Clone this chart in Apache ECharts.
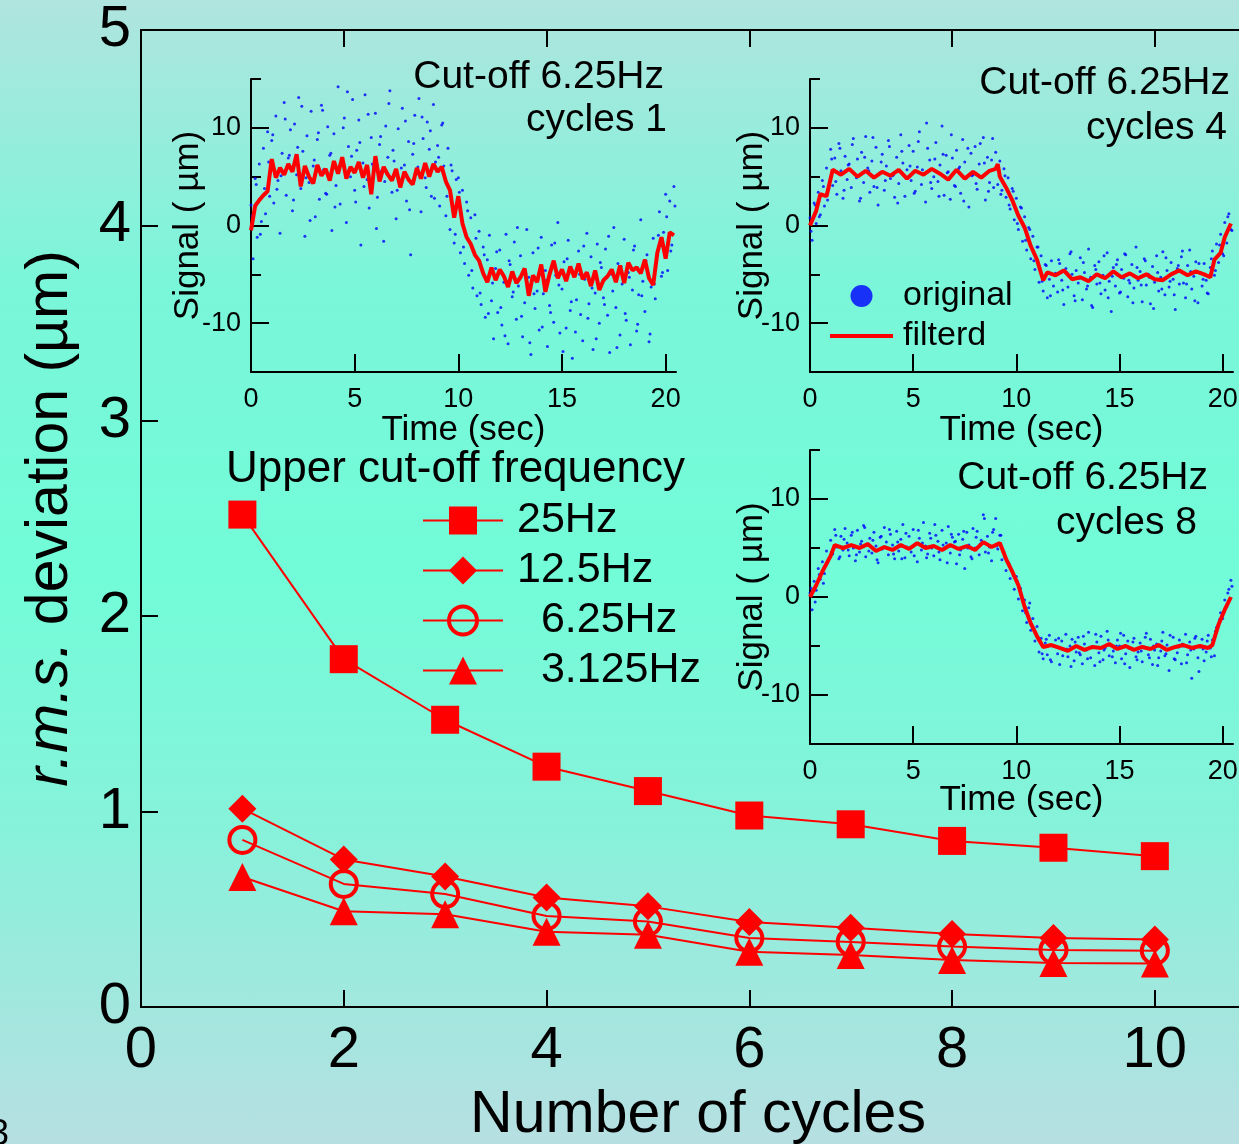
<!DOCTYPE html>
<html>
<head>
<meta charset="utf-8">
<title>r.m.s. deviation vs number of cycles</title>
<script src="https://cdn.jsdelivr.net/npm/echarts@6/dist/echarts.min.js"></script>
<style>
  html, body { margin: 0; padding: 0; }
  #chart {
    width: 1239px; height: 1144px;
    background: linear-gradient(to bottom, #b0e4df 0%, #7af6d9 25%, #72fcd8 50%, #86f2da 72%, #b7dfe2 100%);
  }
</style>
</head>
<body>
<div id="chart"></div>
<script>
// main plot data
const cycles = [1, 2, 3, 4, 5, 6, 7, 8, 9, 10]
const rms25 = [2.52, 1.78, 1.47, 1.23, 1.105, 0.98, 0.935, 0.85, 0.815, 0.772]
const rms12 = [1.015, 0.755, 0.668, 0.56, 0.515, 0.435, 0.405, 0.373, 0.353, 0.345]
const rms6 = [0.855, 0.63, 0.578, 0.466, 0.437, 0.353, 0.333, 0.309, 0.292, 0.288]
const rms3 = [0.665, 0.49, 0.475, 0.385, 0.37, 0.283, 0.266, 0.24, 0.225, 0.222]
const cycleTicks = [0, 2, 4, 6, 8, 10]

// insets: raw signal read at two sample grids, filtered signal
const dotStep = 0.1          // dotsN  : t = i * 0.1
const dotStepB = 0.2         // dotsNb : t = 0.05 + i * 0.2
const dotOffsetB = 0.05
const lineStep1 = 0.2
const timeTicks = [0, 5, 10, 15, 20]
const signalLabels = [-10, 0, 10]
const signalMinor = [-15, -5, 5, 15]

const dots1 = [
  2.1, -3.4, 4.8, -1.2, 6.3, 0.4, 7.9, 1.2, 9.6, 3.0,
  8.7, 2.3, 11.2, 4.6, -0.8, 7.4, 12.6, 3.1, 6.9, 9.8,
  1.5, 10.4, 5.2, 13.1, 3.8, 7.6, -1.1, 9.2, 4.4, 11.7,
  6.1, 0.9, 8.8, 2.7, 12.3, 5.7, 3.3, 10.1, 7.2, -0.5,
  9.4, 4.1, 14.2, 2.2, 6.8, 11.0, 0.3, 8.1, 5.0, 12.9,
  3.6, 7.7, 10.8, -2.0, 6.4, 13.4, 4.7, 1.8, 9.0, 6.0,
  11.5, 2.9, 8.3, 5.6, -1.6, 10.2, 7.0, 13.8, 3.4, 6.6,
  0.7, 9.9, 4.3, 12.0, 6.2, 2.5, 8.6, -3.0, 7.3, 11.3,
  5.3, 13.0, 1.4, 8.9, 4.9, 10.6, 7.8, 3.0, 12.4, 6.5,
  8.2, 2.0, 10.3, 6.1, 1.0, 7.9, -0.4, 5.6, -1.8, 4.7,
  4.9, -2.8, 3.6, -3.9, 2.4, -5.1, 0.8, -6.4, 1.1, -7.2,
  -0.6, -8.1, -2.2, -9.4, -3.5, -1.0, -7.7, -11.6, -4.4, -8.9,
  -2.5, -10.2, -5.8, -0.9, -12.1, -4.0, -7.3, -1.7, -9.6, -6.2,
  -3.1, -11.4, -7.9, -0.4, -5.3, -13.2, -2.8, -8.5, -6.7, -10.7,
  -1.2, -7.0, -4.6, -12.4, -8.2, -2.0, -9.9, -5.1, 0.3, -11.0,
  -6.5, -3.7, -10.5, -1.5, -8.7, -13.6, -4.9, -7.6, -2.6, -9.1,
  -11.8, -5.5, -0.8, -8.0, -3.2, -12.7, -6.9, -1.9, -10.0, -4.3,
  -7.4, -2.4, -9.2, -13.0, -5.0, -0.2, -8.4, -3.9, -11.2, -6.0,
  -1.4, -9.7, -4.8, -12.2, -6.6, -2.1, -10.8, -7.1, 0.6, -5.7,
  -8.8, -3.0, -11.9, -6.3, -1.3, -7.5, -2.9, 1.4, -5.2, -0.7,
  3.2, -4.6, 2.5, -2.0, 4.0
]
const dots1b = [
  1.0, 4.2, -0.9, 3.8, 6.5, 9.3, 3.7, 5.1, 10.9, 7.2,
  2.6, 8.0, 12.2, 4.9, 0.5, 6.7, 9.5, 11.8, 3.2, 7.4,
  1.9, 5.8, 10.0, 13.7, 7.1, 2.4, 8.5, 4.0, 11.4, 6.3,
  -0.3, 9.1, 4.5, 12.5, 7.7, 3.6, 5.9, 10.7, 1.6, 8.4,
  6.0, 11.1, 3.9, 9.7, 2.8, 7.0, 10.5, 3.0, 6.2, -0.9,
  3.4, -2.2, 1.5, -4.6, -1.3, -6.9, -3.0, -9.0, -5.9, -2.7,
  -8.4, -11.3, -3.6, -6.8, -0.2, -9.3, -4.9, -12.0, -7.0, -2.3,
  -10.4, -5.6, -8.9, -1.8, -6.1, -12.9, -3.4, -7.8, -10.9, -5.0,
  -2.1, -9.5, -6.4, -11.6, -3.8, -8.1, -1.1, -6.7, -12.5, -4.2,
  -9.0, -5.3, -2.5, -10.1, -7.2, -3.6, -11.1, -6.0, -1.0, -4.8,
  0.9, -2.6, 2.0
]
const filtered1 = [
  -0.5, 2.0, 2.6, 3.1, 3.5, 6.8, 4.9, 5.9, 5.2, 6.3,
  5.5, 7.3, 4.0, 6.1, 5.0, 4.3, 6.2, 5.1, 5.8, 4.6,
  6.6, 5.3, 7.0, 4.8, 6.0, 5.4, 6.5, 4.9, 6.2, 3.2,
  7.1, 4.5, 6.0, 5.2, 4.6, 5.8, 3.9, 5.5, 4.7, 4.2,
  5.9, 4.8, 6.4, 5.0, 6.3, 5.5, 6.0, 4.5, 3.6, 0.8,
  3.0, 0.2, -1.2, -1.9, -3.0, -3.6, -4.9, -5.8, -4.3, -5.6,
  -4.5, -5.2, -6.3, -4.7, -5.9, -5.3, -4.4, -7.2, -5.1, -5.8,
  -4.0, -6.8, -5.0, -3.6, -5.4, -4.5, -5.7, -4.2, -5.3, -3.9,
  -5.5, -4.8, -6.2, -4.6, -6.6, -5.6, -5.2, -4.5, -5.8, -4.1,
  -5.9, -3.8, -4.6, -4.3, -4.9, -3.5, -5.4, -6.1, -2.8, -1.2,
  -3.4, -0.7, -1.0
]

const dots4 = [
  0.8, -1.5, 2.3, 0.2, 3.4, 1.1, 4.6, 2.0, 5.9, 3.7,
  7.8, 4.1, 6.9, 3.2, 8.4, 5.6, 2.8, 7.1, 4.7, 6.3,
  3.9, 8.9, 5.2, 6.8, 2.5, 7.5, 4.4, 9.1, 5.9, 3.4,
  6.6, 4.0, 8.0, 2.1, 5.4, 7.3, 3.6, 6.1, 8.7, 4.8,
  5.1, 2.9, 7.0, 4.3, 9.3, 6.4, 3.0, 5.7, 8.2, 4.6,
  7.6, 3.5, 6.0, 9.6, 4.2, 5.3, 2.4, 7.9, 6.7, 3.8,
  5.0, 8.5, 4.5, 6.2, 10.2, 3.1, 7.2, 5.5, 2.7, 6.9,
  4.1, 7.7, 5.8, 3.3, 8.8, 6.5, 4.9, 1.9, 7.4, 5.2,
  8.1, 3.7, 6.3, 5.0, 9.0, 2.6, 7.0, 4.4, 6.7, 3.9,
  7.5, 4.2, 6.6, 3.6, 5.8, 2.9, 4.9, 1.7, 3.8, 0.6,
  2.8, -0.4, 1.9, -1.6, 0.9, -2.5, -0.2, -3.4, -1.1, -4.5,
  -2.2, -5.8, -3.1, -6.7, -4.0, -7.4, -5.5, -3.6, -6.2, -4.9,
  -6.8, -3.9, -5.6, -8.1, -4.4, -6.3, -2.9, -5.0, -7.2, -4.6,
  -5.9, -3.3, -7.6, -4.8, -6.5, -2.4, -5.3, -8.4, -4.1, -6.0,
  -3.7, -7.0, -5.1, -6.6, -2.8, -5.7, -8.8, -4.3, -6.2, -3.5,
  -6.9, -4.5, -5.4, -3.0, -7.3, -5.9, -4.0, -6.4, -2.2, -5.6,
  -4.7, -7.8, -3.4, -6.1, -5.0, -8.0, -4.2, -5.8, -3.1, -6.7,
  -5.3, -2.7, -7.1, -4.6, -6.3, -3.8, -5.5, -8.6, -4.4, -6.0,
  -3.2, -5.9, -7.4, -4.1, -2.5, -6.5, -5.2, -3.7, -7.9, -4.8,
  -6.2, -3.9, -5.6, -7.0, -4.3, -2.6, -5.1, -1.9, -3.8, -0.9,
  -2.9, 0.3, -1.8, 1.2, -0.4
]
const dots4b = [
  -0.6, 2.1, 0.9, 4.0, 2.6, 6.8, 4.5, 7.9, 3.6, 6.2,
  8.3, 4.9, 2.8, 7.0, 5.6, 9.0, 3.9, 6.5, 4.6, 8.1,
  5.2, 2.3, 7.6, 4.9, 6.1, 3.3, 8.6, 5.7, 10.5, 4.4,
  6.8, 3.0, 7.3, 5.4, 9.3, 4.0, 6.0, 2.5, 7.9, 5.1,
  4.3, 8.4, 6.4, 3.5, 8.9, 5.9, 3.2, 5.1, 2.1, 3.5,
  0.2, 1.8, -1.5, -0.4, -3.6, -2.2, -5.7, -4.1, -7.2, -5.0,
  -3.5, -6.6, -4.8, -2.7, -7.7, -5.4, -3.8, -6.2, -8.2, -4.5,
  -5.9, -3.1, -7.4, -5.2, -4.0, -6.8, -2.9, -5.6, -7.9, -4.3,
  -6.1, -3.6, -5.3, -8.5, -4.8, -6.5, -3.3, -5.7, -7.1, -4.1,
  -2.6, -6.0, -4.7, -7.7, -3.9, -5.5, -6.9, -3.4, -4.6, -2.0,
  -3.1, 0.9, -0.5
]
const filtered4 = [
  [0, 0], [0.3, 1.5], [0.5, 3.2], [0.8, 3.0], [1.1, 5.7], [1.5, 5.2], [1.9, 5.8], [2.3, 5.0],
  [2.7, 5.6], [3.1, 4.9], [3.5, 5.5], [3.9, 5.1], [4.3, 5.7], [4.7, 4.8], [5.1, 5.6], [5.5, 5.2],
  [5.9, 5.8], [6.3, 5.3], [6.7, 4.7], [7.1, 5.7], [7.5, 4.8], [7.9, 5.5], [8.3, 4.9], [8.7, 5.6],
  [9.0, 5.8], [9.1, 6.3], [9.2, 5.0], [9.5, 3.9], [9.8, 2.6], [10.1, 1.0], [10.4, -0.2], [10.7, -2.1],
  [11.0, -3.5], [11.3, -5.6], [11.5, -4.8], [11.9, -5.1], [12.3, -4.6], [12.7, -5.5], [13.1, -5.3],
  [13.5, -5.7], [13.9, -5.0], [14.3, -5.4], [14.7, -4.7], [15.1, -5.3], [15.5, -4.9], [15.9, -5.4],
  [16.3, -5.0], [16.7, -5.5], [17.1, -5.6], [17.5, -5.0], [17.9, -4.6], [18.3, -5.1], [18.7, -4.7],
  [19.1, -5.0], [19.4, -5.3], [19.6, -3.5], [19.9, -2.8], [20.1, -1.2], [20.4, 0.2]
]

const dots8 = [
  0.4, -1.3, 1.6, 0.7, 2.9, 1.8, 3.6, 2.4, 4.7, 3.9,
  5.8, 4.4, 6.9, 5.1, 3.9, 6.2, 4.8, 7.0, 5.5, 4.2,
  6.3, 5.0, 3.7, 6.8, 4.6, 5.7, 7.3, 4.1, 5.4, 6.0,
  4.5, 6.6, 5.2, 3.5, 6.1, 4.9, 7.1, 5.6, 4.3, 6.4,
  5.3, 3.9, 6.7, 4.7, 5.9, 7.4, 4.0, 5.1, 6.2, 4.6,
  6.9, 5.4, 3.6, 6.0, 4.8, 7.6, 5.2, 4.4, 6.5, 5.0,
  4.2, 6.3, 5.7, 3.8, 6.8, 4.9, 5.5, 7.2, 4.5, 6.1,
  5.6, 3.4, 6.4, 4.8, 5.9, 2.9, 6.6, 5.3, 4.1, 7.0,
  5.0, 6.7, 4.3, 5.8, 8.4, 4.6, 6.2, 5.1, 3.7, 6.9,
  8.0, 4.9, 6.3, 3.8, 4.6, 2.7, 3.5, 1.9, 2.6, 0.8,
  2.1, -0.2, 0.9, -1.4, -0.3, -2.6, -1.1, -3.4, -2.2, -4.5,
  -3.0, -5.6, -4.2, -6.3, -4.7, -5.9, -3.9, -6.6, -5.0, -4.4,
  -5.8, -6.9, -4.5, -5.3, -3.8, -6.1, -5.0, -4.3, -6.5, -5.6,
  -4.1, -5.9, -6.8, -4.8, -5.4, -3.6, -6.2, -5.1, -7.0, -4.6,
  -5.7, -4.0, -6.4, -5.2, -3.5, -6.0, -4.9, -5.5, -6.7, -4.4,
  -5.0, -6.3, -3.9, -5.8, -4.5, -7.2, -5.3, -4.2, -6.1, -5.6,
  -4.7, -6.6, -5.1, -3.7, -5.9, -4.3, -6.9, -5.4, -4.8, -6.2,
  -5.5, -3.6, -6.0, -4.9, -7.5, -5.2, -4.1, -6.4, -5.7, -4.4,
  -6.8, -5.0, -3.8, -5.9, -4.6, -8.3, -5.3, -4.0, -6.2, -5.1,
  -4.3, -6.5, -5.6, -3.9, -5.2, -4.4, -6.0, -3.1, -2.9, -1.6,
  -2.2, -0.3, -1.0, 0.8, 1.7
]
const dots8b = [
  0.9, -0.5, 2.3, 1.4, 3.5, 4.6, 6.3, 4.1, 5.9, 4.8,
  6.6, 4.3, 5.4, 7.1, 4.7, 5.8, 3.8, 6.2, 5.1, 6.9,
  4.4, 5.6, 3.9, 6.5, 5.0, 4.2, 6.8, 5.5, 4.0, 6.0,
  7.4, 4.6, 5.3, 3.5, 6.4, 5.7, 4.3, 6.7, 5.0, 3.9,
  6.1, 5.4, 8.0, 4.5, 6.6, 5.2, 6.3, 4.0, 3.4, 2.2,
  1.6, 0.1, -1.6, -0.6, -3.2, -4.1, -5.8, -4.3, -6.4, -5.0,
  -4.2, -6.0, -5.3, -7.1, -4.6, -5.7, -4.0, -6.3, -5.1, -3.8,
  -6.6, -5.4, -4.4, -6.1, -5.0, -3.7, -6.8, -5.2, -4.6, -6.4,
  -5.5, -4.1, -6.2, -5.0, -7.0, -4.5, -5.8, -3.9, -6.3, -5.1,
  -4.8, -6.7, -5.4, -4.2, -7.6, -5.3, -4.5, -6.1, -3.5, -2.3,
  -1.5, 0.4, 1.1
]
const filtered8 = [
  [0, 0], [0.3, 1.2], [0.6, 2.6], [1.0, 4.2], [1.2, 5.3], [1.6, 5.0], [2.0, 5.3], [2.4, 5.0],
  [2.8, 5.4], [3.2, 4.7], [3.6, 5.1], [4.0, 4.8], [4.4, 5.3], [4.8, 4.9], [5.2, 5.5], [5.6, 5.0],
  [6.0, 5.2], [6.4, 4.8], [6.8, 5.3], [7.2, 4.9], [7.6, 5.2], [8.0, 4.8], [8.4, 5.6], [8.8, 5.1],
  [9.2, 5.5], [9.5, 3.9], [9.8, 2.6], [10.1, 1.2], [10.4, -1.0], [10.7, -2.7], [11.0, -4.0],
  [11.3, -5.1], [11.7, -4.9], [12.1, -5.2], [12.5, -5.5], [12.9, -5.0], [13.3, -5.4], [13.7, -5.1],
  [14.1, -5.2], [14.5, -4.8], [14.9, -5.3], [15.3, -5.0], [15.7, -5.4], [16.1, -5.1], [16.5, -5.3],
  [16.9, -4.9], [17.3, -5.4], [17.7, -5.1], [18.1, -4.9], [18.5, -5.2], [18.9, -5.0], [19.3, -5.2],
  [19.5, -4.9], [19.8, -2.8], [20.1, -1.3], [20.4, 0]
]

const FONT = '"Liberation Sans", Arial, Helvetica, sans-serif'
const RED = '#ff0000'
const BLUE = '#0000ff'

const chart = echarts.init(document.getElementById('chart'), null, { renderer: 'canvas' })

// x axis of one inset (time)
function insetX(grid, gap) {
  return {
    type: 'value', gridIndex: grid, min: 0, max: 20.5,
    name: 'Time (sec)', nameLocation: 'middle', nameGap: gap, nameMoveOverlap: false,
    nameTextStyle: { fontSize: 35, color: '#000', fontFamily: FONT },
    axisLine: { onZero: false, lineStyle: { color: '#000', width: 2 } },
    axisTick: { inside: true, length: 18, customValues: timeTicks, lineStyle: { color: '#000', width: 2 } },
    axisLabel: { customValues: timeTicks, fontSize: 27, margin: 14, color: '#000', fontFamily: FONT },
    splitLine: { show: false }
  }
}
// two y axes per inset: labelled long ticks + short ticks in between
function insetY(grid, gap) {
  return [{
    type: 'value', gridIndex: grid, min: -15, max: 15, position: 'left',
    name: 'Signal ( µm)', nameLocation: 'middle', nameGap: gap, nameRotate: 90, nameMoveOverlap: false,
    nameTextStyle: { fontSize: 35, color: '#000', fontFamily: FONT },
    axisLine: { onZero: false, lineStyle: { color: '#000', width: 2 } },
    axisTick: { inside: true, length: 18, customValues: signalLabels, lineStyle: { color: '#000', width: 2 } },
    axisLabel: { customValues: signalLabels, fontSize: 27, margin: 10, color: '#000', fontFamily: FONT },
    splitLine: { show: false }
  }, {
    type: 'value', gridIndex: grid, min: -15, max: 15, position: 'left',
    axisLine: { show: false, onZero: false },
    axisTick: { inside: true, length: 10, customValues: signalMinor, lineStyle: { color: '#000', width: 2 } },
    axisLabel: { show: false },
    splitLine: { show: false }
  }]
}
function insetSeries(xIdx, yIdx, dots, dotsB, line) {
  const raw = dots.map((v, i) => [+(i * dotStep).toFixed(2), v])
    .concat(dotsB.map((v, i) => [+(dotOffsetB + i * dotStepB).toFixed(2), v]))
  return [{
    name: 'original', type: 'scatter', xAxisIndex: xIdx, yAxisIndex: yIdx,
    symbol: 'circle', symbolSize: 3, itemStyle: { color: BLUE },
    data: raw, z: 2
  }, {
    name: 'filterd', type: 'line', xAxisIndex: xIdx, yAxisIndex: yIdx,
    symbol: 'none', showSymbol: false, lineStyle: { color: RED, width: 4 }, itemStyle: { color: RED },
    data: line, z: 3
  }]
}
function mainSeries(name, values, symbol, extra) {
  return Object.assign({
    name: name, type: 'line', xAxisIndex: 0, yAxisIndex: 0,
    symbol: symbol, symbolSize: 28,
    lineStyle: { color: RED, width: 2 },
    itemStyle: { color: RED },
    data: cycles.map((c, i) => [c, values[i]]), z: 5
  }, extra || {})
}
function note(text, x, y) {
  return { type: 'text', x: x, y: y, style: { text: text, align: 'right', verticalAlign: 'middle', font: '39px ' + FONT, fill: '#000' } }
}

const line1 = filtered1.map((v, i) => [+(i * lineStep1).toFixed(2), v])

const option = {
  backgroundColor: 'transparent',
  animation: false,
  textStyle: { fontFamily: FONT },
  grid: [
    { left: 141, top: 30, right: 0, bottom: 137, outerBoundsMode: 'none' },
    { left: 251, top: 79, width: 425, height: 293, outerBoundsMode: 'none' },
    { left: 810, top: 79, width: 423, height: 293, outerBoundsMode: 'none' },
    { left: 810, top: 450, width: 423, height: 294, outerBoundsMode: 'none' }
  ],
  xAxis: [
    {
      type: 'value', gridIndex: 0, min: 0, max: 10.83, position: 'bottom',
      name: 'Number of cycles', nameLocation: 'middle', nameGap: 79,
      nameTextStyle: { fontSize: 59, color: '#000', fontFamily: FONT, padding: [0, 0, 0, 16] },
      axisLine: { onZero: false, lineStyle: { color: '#000', width: 2 } },
      axisTick: { inside: true, length: 17, customValues: cycleTicks, lineStyle: { color: '#000', width: 2 } },
      axisLabel: { customValues: cycleTicks, fontSize: 58, margin: 15, color: '#000', fontFamily: FONT },
      splitLine: { show: false }
    },
    {
      type: 'value', gridIndex: 0, min: 0, max: 10.83, position: 'top',
      axisLine: { onZero: false, lineStyle: { color: '#000', width: 2 } },
      axisTick: { inside: true, length: 17, customValues: cycleTicks, lineStyle: { color: '#000', width: 2 } },
      axisLabel: { show: false },
      splitLine: { show: false }
    },
    insetX(1, 41),
    insetX(2, 41),
    insetX(3, 39)
  ],
  yAxis: [
    {
      type: 'value', gridIndex: 0, min: 0, max: 5, interval: 1, position: 'left',
      name: '{i|r.m.s.} deviation (µm)', nameLocation: 'middle', nameGap: 61, nameRotate: 90,
      nameTextStyle: {
        fontSize: 59, color: '#000', fontFamily: FONT,
        rich: { i: { fontStyle: 'italic', fontSize: 59, color: '#000', fontFamily: FONT } }
      },
      axisLine: { onZero: false, lineStyle: { color: '#000', width: 2 } },
      axisTick: { inside: true, length: 17, lineStyle: { color: '#000', width: 2 } },
      axisLabel: { fontSize: 58, margin: 10, color: '#000', fontFamily: FONT },
      splitLine: { show: false }
    }
  ].concat(insetY(1, 45), insetY(2, 40), insetY(3, 40)),
  legend: [
    {
      left: 417, top: 494, orient: 'vertical', selectedMode: false,
      itemWidth: 80, itemHeight: 35, itemGap: 7,
      data: [
        { name: '25Hz' },
        { name: '12.5Hz' },
        { name: '6.25Hz', itemStyle: { color: 'rgba(0,0,0,0)', borderColor: RED, borderWidth: 4 } },
        { name: '3.125Hz' }
      ],
      formatter: n => (n === '6.25Hz' || n === '3.125Hz') ? '  ' + n : n,
      lineStyle: { width: 2 },
      textStyle: { fontSize: 43, color: '#000', fontFamily: FONT, padding: [0, 0, 0, 9] }
    },
    {
      left: 823, top: 274, orient: 'vertical', selectedMode: false,
      itemWidth: 63, itemHeight: 22, itemGap: 6,
      data: [{ name: 'original', icon: 'circle' }, { name: 'filterd', itemStyle: { opacity: 0 } }],
      lineStyle: { width: 4 },
      textStyle: { fontSize: 34, color: '#000', fontFamily: FONT, padding: [0, 0, 0, 5] }
    }
  ],
  title: {
    text: 'Upper cut-off frequency', left: 226, top: 448, padding: 0,
    textStyle: { fontSize: 44, fontWeight: 'normal', color: '#000', fontFamily: FONT }
  },
  graphic: [
    note('Cut-off 6.25Hz', 664, 77),
    note('cycles 1', 667, 120),
    note('Cut-off 6.25Hz', 1230, 83),
    note('cycles 4', 1227, 128),
    note('Cut-off 6.25Hz', 1208, 478),
    note('cycles 8', 1197, 523),
    // page number fragment at bottom-left
    { type: 'text', x: -11, y: 1117, style: { text: '3', font: '36px ' + FONT, fill: '#000' } }
  ],
  series: [].concat(
    insetSeries(2, 1, dots1, dots1b, line1),
    insetSeries(3, 3, dots4, dots4b, filtered4),
    insetSeries(4, 5, dots8, dots8b, filtered8),
    [
      mainSeries('25Hz', rms25, 'rect'),
      mainSeries('12.5Hz', rms12, 'diamond'),
      mainSeries('6.25Hz', rms6, 'circle', {
        symbolSize: 26,
        itemStyle: { color: 'rgba(0,0,0,0)', borderColor: RED, borderWidth: 4 }
      }),
      mainSeries('3.125Hz', rms3, 'triangle')
    ]
  )
}

chart.setOption(option)
</script>
</body>
</html>
